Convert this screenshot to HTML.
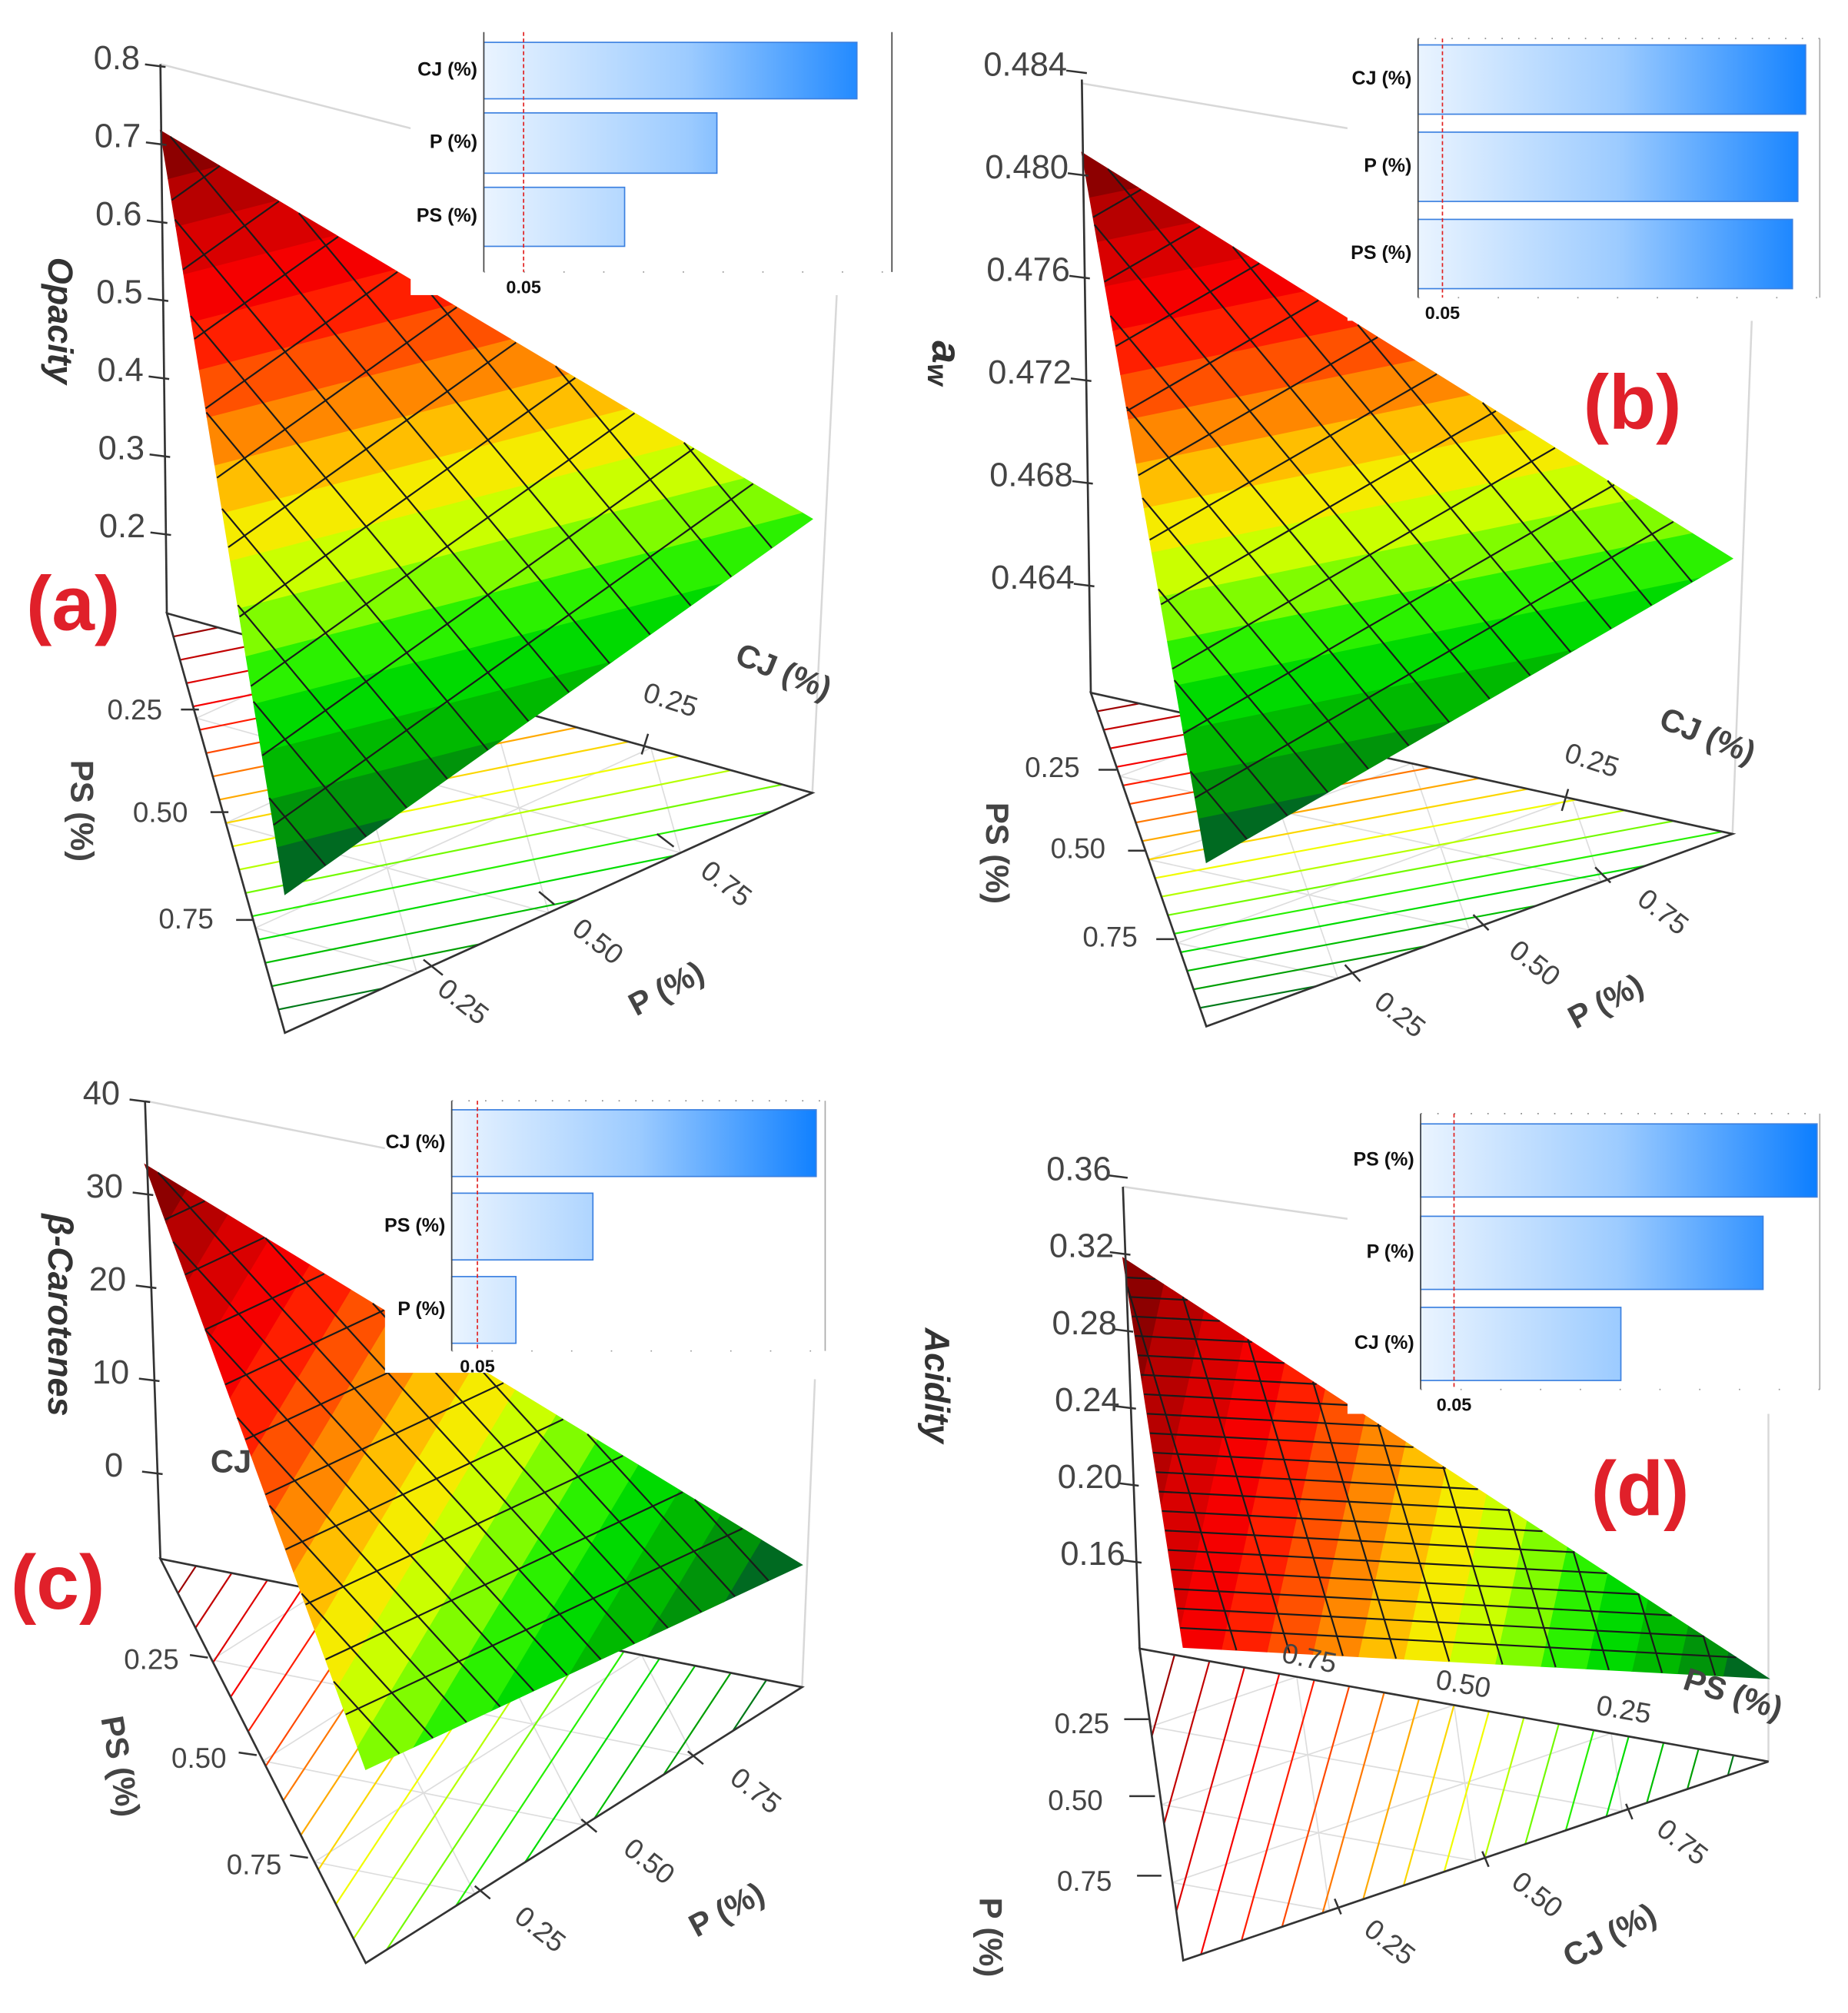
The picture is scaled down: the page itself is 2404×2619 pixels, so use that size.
<!DOCTYPE html>
<html><head><meta charset="utf-8"><style>
html,body{margin:0;padding:0;background:#fff;}
svg{display:block;}
text{font-family:"Liberation Sans",sans-serif;}
</style></head><body>
<svg id="root" width="2404" height="2619" viewBox="0 0 1440 1569" preserveAspectRatio="none" xmlns="http://www.w3.org/2000/svg">
<defs></defs>
</svg>
<script>
// ---------- DATA ----------
const panelIds = ['a','b','c','d'];
// surface response values at corners [back-left, front, right]
const surfaceA = [0.715, 0.15, 0.32];
const surfaceB = [0.4808, 0.462, 0.467];
const surfaceC = [33, 10.25, -2];
const surfaceD = [0.317, 0.28, 0.13];
// z-axis tick labels
const zTicksA = [0.8,0.7,0.6,0.5,0.4,0.3,0.2];
const zTicksB = [0.484,0.480,0.476,0.472,0.468,0.464];
const zTicksC = [40,30,20,10,0];
const zTicksD = [0.36,0.32,0.28,0.24,0.20,0.16];
// pareto insets
const factorsA = ['CJ (%)','P (%)','PS (%)'];
const effectsA = [0.469, 0.293, 0.177];
const factorsB = ['CJ (%)','P (%)','PS (%)'];
const effectsB = [0.795, 0.779, 0.768];
const factorsC = ['CJ (%)','PS (%)','P (%)'];
const effectsC = [0.71, 0.275, 0.125];
const factorsD = ['PS (%)','P (%)','CJ (%)'];
const effectsD = [0.594, 0.513, 0.30];
const pThreshold = 0.05;

// ---------- LAYOUT ----------
const NS='http://www.w3.org/2000/svg';
const root=document.getElementById('root');
function mk(tag,attrs,parent){const e=document.createElementNS(NS,tag);for(const k in attrs)e.setAttribute(k,attrs[k]);(parent||root).appendChild(e);return e;}
function txt(s,x,y,size,rot,parent,opts){opts=opts||{};const t=mk('text',{x:x,y:y,'font-size':size,fill:opts.fill||'#333','text-anchor':opts.anchor||'middle','dominant-baseline':'middle','font-weight':opts.weight||'normal','font-style':opts.italic?'italic':'normal',transform:rot?`rotate(${rot} ${x} ${y})`:''},parent);t.textContent=s;return t;}

const cmapStops=[[0,[0,85,45]],[0.12,[0,165,0]],[0.25,[0,235,0]],[0.36,[150,255,0]],[0.44,[240,255,0]],[0.52,[255,200,0]],[0.6,[255,130,0]],[0.68,[255,60,0]],[0.76,[255,0,0]],[0.88,[200,0,0]],[1,[120,0,0]]];
function cmap(t){t=Math.max(0,Math.min(1,t));for(let i=1;i<cmapStops.length;i++){if(t<=cmapStops[i][0]){const[a,ca]=cmapStops[i-1],[b,cb]=cmapStops[i];const f=(t-a)/(b-a);return`rgb(${ca.map((c,j)=>Math.round(c+(cb[j]-c)*f)).join(',')})`;}}return 'rgb(120,0,0)';}

const cfgs={
 a:{floor:[[130,478],[222,805],[633,618]],zx:[125,130],zTop:50,tickY0:415,tickV0:0.2,ppu:608,k:[1,3.31,1.57],vals:surfaceA,ticks:zTicksA,fmt:v=>v.toFixed(1),
    meshA:11,famA:0,dir2:[1.2,-1],mesh2:13,back:[[633,618,652,230],[125,50,320,100]],
    inset:{x:377,y:25,w:318,h:187,dmax:0.513,bars:[[33,77],[88,135],[146,192]],bg:[320,0,380,230],f:factorsA,e:effectsA},
    title:['Opacity',45,250],letter:['(a)',57,475],
    fl:[['0.25',105,555,0],['0.50',125,635,0],['0.75',145,718,0],['PS (%)',62,632,90],['0.25',360,782,38],['0.50',465,735,38],['0.75',565,690,38],['P (%)',520,772,-28],['CJ (%)',610,525,22],['0.25',522,547,18]],
    ticks3:[[155,553,141,553],[178,633,164,633],[198,717,184,717],[345,760,330,748],[432,705,420,695],[525,660,512,650],[505,572,500,588]]},
 b:{floor:[[850,540],[940,800],[1350,650]],zx:[843,850],zTop:62,tickY0:455,tickV0:0.464,ppu:20000,k:[1,2.84,1.48],vals:surfaceB,ticks:zTicksB,fmt:v=>v.toFixed(3),
    meshA:11,famA:0,dir2:[1.2,-1],mesh2:13,back:[[1350,650,1365,250],[843,65,1050,100]],
    inset:{x:1105,y:30,w:313,h:202,dmax:0.824,bars:[[35,89],[103,157],[171,225]],bg:[1050,25,375,225],f:factorsB,e:effectsB},
    title:['aw',735,283],letter:['(b)',1272,318],
    fl:[['0.25',820,600,0],['0.50',840,663,0],['0.75',865,732,0],['PS (%)',775,665,90],['0.25',1090,792,38],['0.50',1195,752,38],['0.75',1295,712,38],['P (%)',1252,782,-28],['CJ (%)',1330,575,22],['0.25',1240,594,18]],
    ticks3:[[870,600,856,600],[893,663,879,663],[915,732,901,732],[1060,765,1048,752],[1160,725,1148,713],[1255,688,1243,676],[1222,615,1217,632]]},
 c:{floor:[[125,1215],[285,1530],[625,1315]],zx:[113,125],zTop:858,tickY0:1147,tickV0:0,ppu:7.25,k:[1,1.06,1.78],vals:surfaceC,ticks:zTicksC,fmt:v=>String(v),
    meshA:11,famA:0,dir2:[1.1,-1],mesh2:13,back:[[625,1315,635,1075],[113,858,300,895]],
    inset:{x:352,y:858,w:291,h:195,dmax:0.7275,bars:[[865,917],[930,982],[995,1047]],bg:[300,855,345,215],f:factorsC,e:effectsC},
    title:['β-Carotenes',45,1025],letter:['(c)',45,1238],
    fl:[['0.25',118,1295,0],['0.50',155,1372,0],['0.75',198,1455,0],['PS (%)',92,1377,80],['0.25',420,1505,38],['0.50',505,1452,38],['0.75',588,1397,38],['P (%)',567,1490,-28],['CJ',180,1141,0]],
    ticks3:[[162,1292,148,1290],[200,1368,186,1366],[240,1448,226,1446],[382,1480,370,1470],[465,1428,453,1418],[548,1375,536,1365]]},
 d:{floor:[[888,1285],[922,1528],[1378,1373]],zx:[875,888],zTop:925,tickY0:1216,tickV0:0.16,ppu:1500,k:[1,0.98,2.7],vals:surfaceD,ticks:zTicksD,fmt:v=>v.toFixed(2),
    meshA:20,famA:0,dir2:[1,-0.3],mesh2:11,back:[[1378,1373,1378,1100],[875,925,1050,950]],
    inset:{x:1107,y:868,w:311,h:215,dmax:0.598,bars:[[876,933],[948,1005],[1019,1076]],bg:[1050,862,375,240],f:factorsD,e:effectsD},
    title:['Acidity',728,1080],letter:['(d)',1278,1165],
    fl:[['0.25',843,1345,0],['0.50',838,1405,0],['0.75',845,1468,0],['P (%)',770,1510,90],['0.25',1082,1515,38],['0.50',1197,1478,38],['0.75',1310,1437,38],['CJ (%)',1255,1510,-28],['0.75',1020,1294,12],['0.50',1140,1314,10],['0.25',1265,1334,10],['PS (%)',1350,1322,18]],
    ticks3:[[895,1340,876,1340],[900,1400,880,1400],[905,1462,886,1462],[1045,1492,1040,1480],[1160,1455,1155,1443],[1272,1418,1267,1406]]}
};

function zY(c,v){return c.tickY0-(v-c.tickV0)*c.ppu;}
// segment of iso-line f=L across triangle P with vertex values f
function isoSeg(P,f,L){const pts=[];for(let a=0;a<3;a++){const b=(a+1)%3;if((f[a]-L)*(f[b]-L)<0){const t=(L-f[a])/(f[b]-f[a]);pts.push([P[a][0]+(P[b][0]-P[a][0])*t,P[a][1]+(P[b][1]-P[a][1])*t]);}}return pts.length===2?pts:null;}
// clip polygon with per-vertex values by keep(v)
function clip(poly,L,above){const out=[];for(let i=0;i<poly.length;i++){const A=poly[i],B=poly[(i+1)%poly.length];const ia=above?A[2]>=L:A[2]<=L,ib=above?B[2]>=L:B[2]<=L;
 if(ia)out.push(A);if(ia!==ib){const t=(L-A[2])/(B[2]-A[2]);out.push([A[0]+(B[0]-A[0])*t,A[1]+(B[1]-A[1])*t,L]);}}return out;}

panelIds.forEach(id=>{
 const c=cfgs[id];
 const g=mk('g',{});
 
 
 const F=c.floor, vals=c.vals;
 const vmin=Math.min(...vals), vmax=Math.max(...vals);
 const tOf=v=>(v-vmin)/(vmax-vmin);
 const zBase=c.tickV0+(c.tickY0-F[0][1])/c.ppu;
 const S=F.map((p,i)=>[p[0]+(i===0?(c.zx[0]-c.zx[1]):0),p[1]-(vals[i]-zBase)*c.ppu*c.k[i]]);
 c.back.forEach(b=>{const l=mk('line',{x1:b[0],y1:b[1],x2:b[2],y2:b[3],stroke:'#d8d8d8','stroke-width':1.5},g);});
 // floor
 const fl=mk('g',{},g);
 const bp=(w)=>[w[0]*F[0][0]+w[1]*F[1][0]+w[2]*F[2][0],w[0]*F[0][1]+w[1]*F[1][1]+w[2]*F[2][1]];
 [0.25,0.5,0.75].forEach(q=>{for(let j=0;j<3;j++){const o1=(j+1)%3,o2=(j+2)%3;const w1=[0,0,0],w2=[0,0,0];w1[j]=q;w1[o1]=1-q;w2[j]=q;w2[o2]=1-q;const p1=bp(w1),p2=bp(w2);mk('line',{x1:p1[0],y1:p1[1],x2:p2[0],y2:p2[1],stroke:'#ddd','stroke-width':1},fl);}});
 const nL=18;
 for(let i=1;i<nL;i++){const L=vmin+(vmax-vmin)*i/nL;const s=isoSeg(F,vals,L);
  if(s){const l=mk('line',{x1:s[0][0],y1:s[0][1],x2:s[1][0],y2:s[1][1],stroke:cmap(tOf(L)),'stroke-width':1.3},fl);}}
 mk('polygon',{points:F.map(p=>p.join(',')).join(' '),fill:'none',stroke:'#333','stroke-width':1.6},fl);
 c.ticks3.forEach(t=>mk('line',{x1:t[0],y1:t[1],x2:t[2],y2:t[3],stroke:'#333','stroke-width':1.5},fl));
 // surface bands (exact)
 const sg=mk('g',{},g);
 const levels=16;const base=S.map((p,i)=>[p[0],p[1],vals[i]]);
 for(let i=0;i<levels;i++){const L0=vmin+(vmax-vmin)*i/levels,L1=vmin+(vmax-vmin)*(i+1)/levels;
  let poly=clip(base,L0,true);if(poly.length<3)continue;poly=clip(poly,L1,false);if(poly.length<3)continue;
  const col=cmap((i+0.5)/levels);
  const b=mk('polygon',{points:poly.map(p=>p[0].toFixed(2)+','+p[1].toFixed(2)).join(' '),fill:col,stroke:col,'stroke-width':0.8},sg);
  }
 // mesh family 1: constant barycentric
 const sp=(w)=>[w[0]*S[0][0]+w[1]*S[1][0]+w[2]*S[2][0],w[0]*S[0][1]+w[1]*S[1][1]+w[2]*S[2][1]];
 for(let i=1;i<c.meshA;i++){const q=i/c.meshA;const fam=c.famA,o1=(fam+1)%3,o2=(fam+2)%3;const w1=[0,0,0],w2=[0,0,0];w1[fam]=q;w1[o1]=1-q;w2[fam]=q;w2[o2]=1-q;const p1=sp(w1),p2=sp(w2);mk('line',{x1:p1[0],y1:p1[1],x2:p2[0],y2:p2[1],stroke:'#1a1a1a','stroke-width':1.3},sg);}
 // mesh family 2: screen-direction lines
 const nv=S.map(p=>p[0]*c.dir2[0]+p[1]*c.dir2[1]);const nmin=Math.min(...nv),nmax=Math.max(...nv);
 for(let i=1;i<c.mesh2;i++){const s=isoSeg(S,nv,nmin+(nmax-nmin)*i/c.mesh2);if(s)mk('line',{x1:s[0][0],y1:s[0][1],x2:s[1][0],y2:s[1][1],stroke:'#1a1a1a','stroke-width':1.3},sg);}
 // z axis
 const za=mk('g',{},g);
 mk('line',{x1:c.zx[0],y1:c.zTop,x2:c.zx[1],y2:F[0][1],stroke:'#333','stroke-width':1.6},za);
 c.ticks.forEach(v=>{const y=zY(c,v);const fx=c.zx[0]+(c.zx[1]-c.zx[0])*(y-c.zTop)/(F[0][1]-c.zTop);
  mk('line',{x1:fx-12,y1:y,x2:fx+4,y2:y+2,stroke:'#333','stroke-width':1.5},za);
  const t=txt(c.fmt(v),fx-(id==='b'?44:34),y-3,26,0,za,{fill:'#444'});});
 c.fl.forEach(l=>{const isT=l[0].indexOf('%')>=0||l[0]==='CJ';const t=txt(l[0],l[1],l[2],isT?25:22,l[3],g,{weight:isT?'bold':'normal',fill:'#444'});});
 let tt;
 if(id==='b'){tt=mk('text',{x:c.title[1],y:c.title[2],'font-size':32,'font-weight':'bold','font-style':'italic',fill:'#333','text-anchor':'middle','dominant-baseline':'middle',transform:`rotate(90 ${c.title[1]} ${c.title[2]})`},g);tt.innerHTML='a<tspan font-size="22" dy="6">w</tspan>';}
 else tt=txt(c.title[0],c.title[1],c.title[2],27,90,g,{italic:true,weight:'bold'});
 
 // inset
 const I=c.inset;
 const ig=mk('g',{},g);
 mk('rect',{x:I.bg[0],y:I.bg[1],width:I.bg[2],height:I.bg[3],fill:'#fff'},ig);
 const xs=v=>I.x+v/I.dmax*I.w;
 const gid='grad'+id;const lg=mk('linearGradient',{id:gid,gradientUnits:'userSpaceOnUse',x1:I.x,y1:0,x2:I.x+I.w,y2:0},root.querySelector('defs'));
 mk('stop',{offset:0,'stop-color':'#eaf4ff'},lg);mk('stop',{offset:0.5,'stop-color':'#9ccbff'},lg);mk('stop',{offset:1,'stop-color':'#0a7dff'},lg);
 I.e.forEach((v,i)=>{const b=I.bars[i];const r=mk('rect',{x:I.x,y:b[0],width:xs(v)-I.x,height:b[1]-b[0],fill:`url(#${gid})`,stroke:'#3b80e0','stroke-width':1},ig);
  
  const t=txt(I.f[i],I.x-5,(b[0]+b[1])/2,15,0,ig,{anchor:'end',weight:'bold',fill:'#111'});});
 mk('line',{x1:I.x,y1:I.y,x2:I.x,y2:I.y+I.h,stroke:'#444','stroke-width':1},ig);
 if(id!=='a'){mk('line',{x1:I.x,y1:I.y,x2:I.x+I.w,y2:I.y,stroke:'#888','stroke-width':1,'stroke-dasharray':'1 12'},ig);mk('line',{x1:I.x+I.w,y1:I.y,x2:I.x+I.w,y2:I.y+I.h,stroke:'#aaa','stroke-width':1},ig);}
 else mk('line',{x1:I.x+I.w,y1:I.y,x2:I.x+I.w,y2:I.y+I.h,stroke:'#444','stroke-width':1},ig);
 mk('line',{x1:I.x,y1:I.y+I.h,x2:I.x+I.w,y2:I.y+I.h,stroke:'#999','stroke-width':1,'stroke-dasharray':'1 30'},ig);
 const px=xs(pThreshold);
 const rl=mk('line',{x1:px,y1:I.y,x2:px,y2:I.y+I.h,stroke:'#e02020','stroke-width':1,'stroke-dasharray':'3 2'},ig);
 const t5=txt('0.05',px,I.y+I.h+13,14,0,ig,{weight:'bold',fill:'#111'});
 const lt=txt(c.letter[0],c.letter[1],c.letter[2],60,0,g,{weight:'bold',fill:'#e0202a'});
});
</script>
</body></html>
